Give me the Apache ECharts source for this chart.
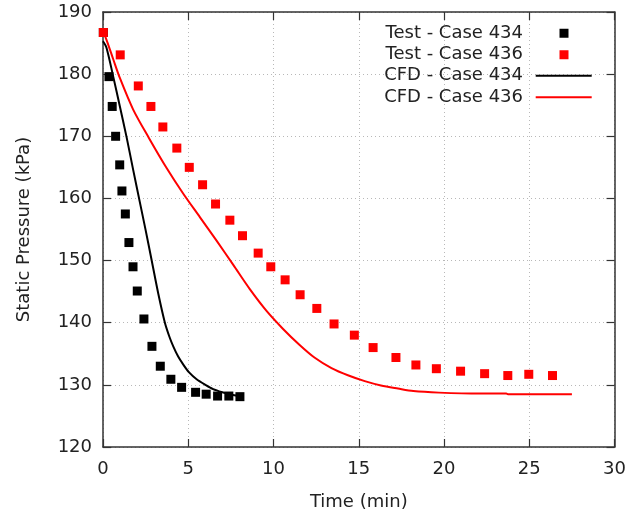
<!DOCTYPE html>
<html>
<head>
<meta charset="utf-8">
<script src="https://cdn.jsdelivr.net/npm/echarts@6/dist/echarts.min.js"></script>
<style>html,body{margin:0;padding:0;background:#fff}#c{width:629px;height:517px}</style>
</head>
<body>
<div id="c"></div>
<script>
const xTicks = [0, 5, 10, 15, 20, 25, 30];
const yTicks = [120, 130, 140, 150, 160, 170, 180, 190];

const test434Time = [0.02, 0.35, 0.54, 0.74, 0.98, 1.11, 1.31, 1.52, 1.76, 2.01, 2.4, 2.87, 3.36, 3.98, 4.61, 5.43, 6.05, 6.72, 7.38, 8.03];
const test434Pres = [186.7, 179.6, 174.8, 170.0, 165.4, 161.2, 157.5, 152.9, 149.0, 145.1, 140.6, 136.2, 133.0, 130.9, 129.6, 128.8, 128.5, 128.2, 128.2, 128.1];

const test436Time = [0.02, 1.01, 2.07, 2.81, 3.51, 4.33, 5.06, 5.84, 6.6, 7.44, 8.18, 9.1, 9.84, 10.68, 11.56, 12.54, 13.55, 14.74, 15.84, 17.18, 18.35, 19.55, 20.97, 22.38, 23.74, 24.97, 26.36];
const test436Pres = [186.7, 183.1, 178.1, 174.8, 171.5, 168.1, 165.0, 162.2, 159.1, 156.5, 154.0, 151.2, 149.0, 146.9, 144.5, 142.3, 139.8, 138.0, 136.0, 134.4, 133.2, 132.6, 132.2, 131.8, 131.5, 131.7, 131.5];

const cfd434Time = [0, 0.2, 0.6, 0.99, 1.38, 1.77, 2.16, 2.5, 2.85, 3.24, 3.63, 3.9, 4.12, 4.4, 4.7, 5.05, 5.49, 6.0, 6.46, 7.0, 7.44, 8.1];
const cfd434Pres = [185.3, 184.3, 179.6, 174.8, 169.9, 164.6, 159.4, 154.9, 150.1, 144.7, 140.0, 137.7, 136.2, 134.6, 133.3, 132.0, 130.9, 130.0, 129.3, 128.8, 128.5, 128.15];

const cfd436Time = [0, 0.3, 0.6, 1.0, 1.77, 2.7, 3.73, 4.7, 5.68, 6.66, 7.64, 8.61, 9.59, 10.56, 11.5, 12.4, 13.4, 14.4, 15.35, 16.3, 17.3, 18.2, 19.7, 22.1, 23.65, 23.75, 27.5];
const cfd436Pres = [187.0, 184.8, 182.4, 179.3, 174.3, 169.7, 164.9, 160.8, 157.0, 153.2, 149.3, 145.4, 141.9, 139.0, 136.5, 134.4, 132.7, 131.5, 130.6, 129.9, 129.4, 129.0, 128.75, 128.6, 128.6, 128.5, 128.5];

const zip = (a, b) => a.map((v, i) => [v, b[i]]);
const FONT = 'DejaVu Sans';
const FS = 18;
const TXT = '#222';
const AX = '#333';

const chart = echarts.init(document.getElementById('c'), null, {renderer: 'canvas'});

const gridLine = {show: true, lineStyle: {color: '#b8b8b8', type: [1, 3], width: 1}};
const tick = {show: true, inside: true, length: 8, lineStyle: {color: AX, width: 1.2}};
const axLine = {show: true, onZero: false, lineStyle: {color: AX, width: 1.5}};

chart.setOption({
  animation: false,
  backgroundColor: '#fff',
  textStyle: {fontFamily: FONT},
  grid: {left: 103, right: 14, top: 12, bottom: 70, containLabel: false},
  legend: [
    {
      data: ['Test - Case 434', 'Test - Case 436'],
      orient: 'vertical', align: 'right', right: 60.5, top: 22.5, padding: 0, itemGap: 0,
      itemWidth: 9, itemHeight: 9, icon: 'rect', selectedMode: false,
      textStyle: {fontFamily: FONT, fontSize: FS, color: TXT, lineHeight: 21.5, padding: [0, 31.5, 0, 0]}
    },
    {
      data: ['CFD - Case 434', 'CFD - Case 436'],
      orient: 'vertical', align: 'right', right: 37.3, top: 65, padding: 0, itemGap: 0,
      itemWidth: 56, itemHeight: 2, icon: 'rect', selectedMode: false,
      textStyle: {fontFamily: FONT, fontSize: FS, color: TXT, lineHeight: 21.5, padding: [0, 7.7, 0, 0]}
    }
  ],
  xAxis: [
    {
      type: 'value', min: xTicks[0], max: xTicks[xTicks.length - 1], interval: 5, position: 'bottom',
      name: 'Time (min)', nameLocation: 'middle', nameGap: 46,
      nameTextStyle: {fontFamily: FONT, fontSize: FS, color: TXT},
      axisLine: axLine, axisTick: tick, splitLine: gridLine,
      axisLabel: {fontFamily: FONT, fontSize: FS, color: TXT, margin: 13}
    },
    {
      type: 'value', min: xTicks[0], max: xTicks[xTicks.length - 1], interval: 5, position: 'top',
      axisLine: axLine, axisTick: tick, splitLine: {show: false}, axisLabel: {show: false}
    }
  ],
  yAxis: [
    {
      type: 'value', min: yTicks[0], max: yTicks[yTicks.length - 1], interval: 10, position: 'left',
      name: 'Static Pressure (kPa)', nameLocation: 'middle', nameGap: 70,
      nameTextStyle: {fontFamily: FONT, fontSize: FS, color: TXT},
      axisLine: axLine, axisTick: tick, splitLine: gridLine,
      axisLabel: {fontFamily: FONT, fontSize: FS, color: TXT, margin: 11}
    },
    {
      type: 'value', min: yTicks[0], max: yTicks[yTicks.length - 1], interval: 10, position: 'right',
      axisLine: axLine, axisTick: tick, splitLine: {show: false}, axisLabel: {show: false}
    }
  ],
  series: [
    {
      name: 'Test - Case 434', type: 'scatter', symbol: 'rect', symbolSize: 9,
      itemStyle: {color: '#000', opacity: 1}, data: zip(test434Time, test434Pres), z: 3
    },
    {
      name: 'Test - Case 436', type: 'scatter', symbol: 'rect', symbolSize: 9,
      itemStyle: {color: '#ff0000', opacity: 1}, data: zip(test436Time, test436Pres), z: 3
    },
    {
      name: 'CFD - Case 434', type: 'line', showSymbol: false, symbol: 'none',
      smooth: 0.3,
      lineStyle: {color: '#000', width: 2}, itemStyle: {color: '#000'},
      data: zip(cfd434Time, cfd434Pres), z: 4
    },
    {
      name: 'CFD - Case 436', type: 'line', showSymbol: false, symbol: 'none',
      smooth: 0.3,
      lineStyle: {color: '#ff0000', width: 2}, itemStyle: {color: '#ff0000'},
      data: zip(cfd436Time, cfd436Pres), z: 4
    }
  ]
});
</script>
</body>
</html>
